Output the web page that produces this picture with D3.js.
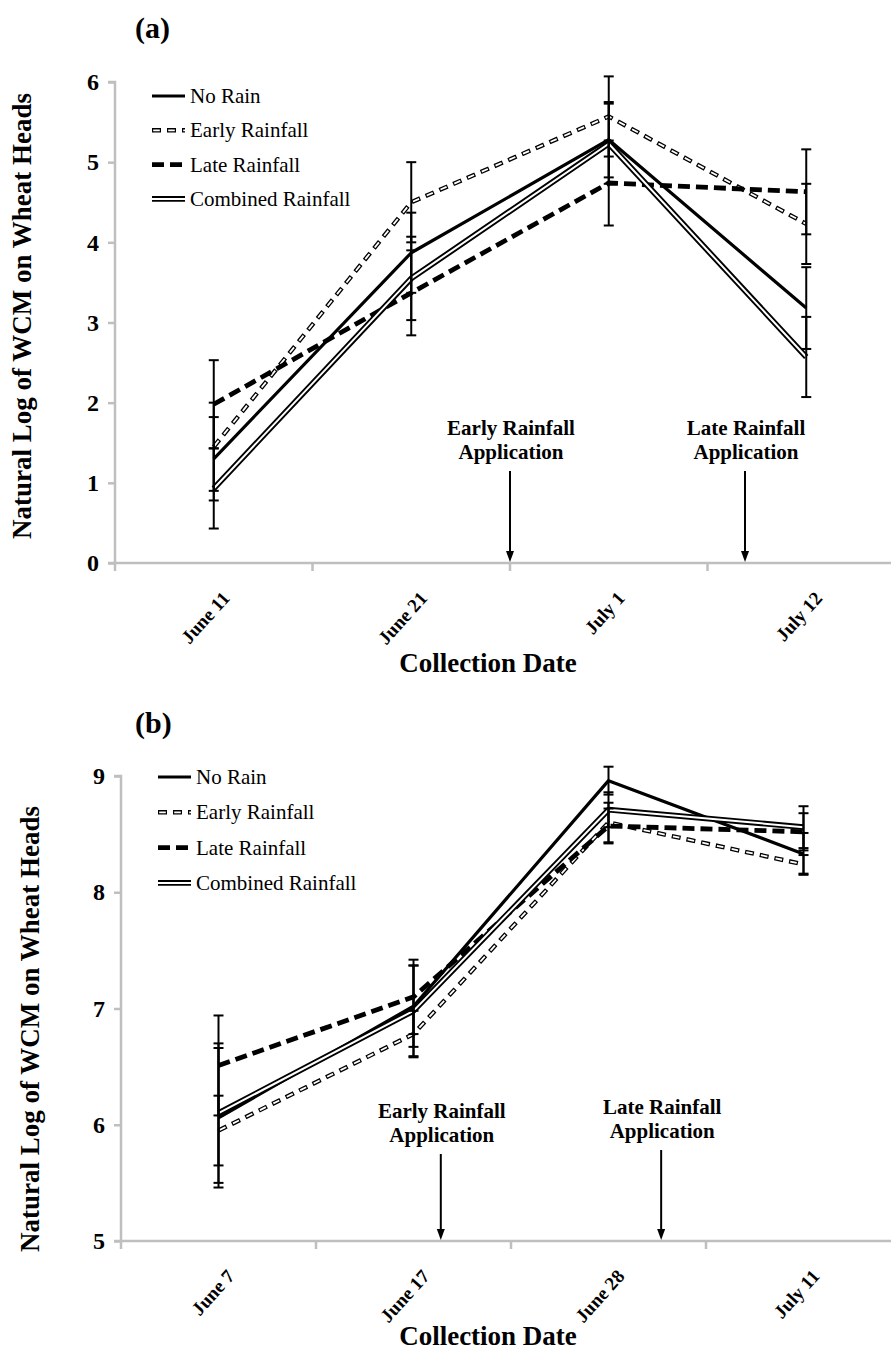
<!DOCTYPE html>
<html>
<head>
<meta charset="utf-8">
<script src="https://cdn.jsdelivr.net/npm/d3@7"></script>
<style>
  html, body { margin: 0; padding: 0; background: #fff; }
  svg { display: block; }
</style>
</head>
<body>
<div id="chart"></div>
<script>
// ---- Panel (a) data ----
const datesA = ["June 11", "June 21", "July 1", "July 12"];
const noRainA = [1.30, 3.87, 5.28, 3.18];
const earlyA = [1.45, 4.50, 5.57, 4.23];
const lateA = [1.98, 3.37, 4.74, 4.63];
const combinedA = [0.93, 3.55, 5.23, 2.57];
const noRainErrA = [0.52, 0.50, 0.47, 0.51];
const earlyErrA = [0.55, 0.50, 0.50, 0.50];
const lateErrA = [0.55, 0.53, 0.53, 0.53];
const combinedErrA = [0.50, 0.52, 0.50, 0.50];
const yTicksA = [0, 1, 2, 3, 4, 5, 6];
// application dates, in category units (0 = left edge of first category)
const applicationsA = [2.0, 3.19];

// ---- Panel (b) data ----
const datesB = ["June 7", "June 17", "June 28", "July 11"];
const noRainB = [6.06, 7.02, 8.96, 8.33];
const earlyB = [5.95, 6.78, 8.60, 8.24];
const lateB = [6.51, 7.10, 8.57, 8.52];
const combinedB = [6.10, 6.98, 8.71, 8.56];
const noRainErrB = [0.60, 0.35, 0.12, 0.18];
const earlyErrB = [0.30, 0.20, 0.17, 0.08];
const lateErrB = [0.43, 0.32, 0.15, 0.16];
const combinedErrB = [0.60, 0.39, 0.15, 0.18];
const yTicksB = [5, 6, 7, 8, 9];
const applicationsB = [1.64, 2.77];

const seriesNames = ["No Rain", "Early Rainfall", "Late Rainfall", "Combined Rainfall"];
const applicationLabels = [["Early Rainfall", "Application"], ["Late Rainfall", "Application"]];

const W = 891, H = 1353;
const GRAY = "#bfbfbf";
const SERIF = "'Liberation Serif', 'Times New Roman', Times, serif";

const svg = d3.select("#chart").append("svg")
  .attr("width", W).attr("height", H)
  .attr("viewBox", `0 0 ${W} ${H}`)
  .style("font-family", SERIF);
svg.append("rect").attr("width", W).attr("height", H).attr("fill", "#fff");

// Stroke a path with one of the four line styles
function strokeStyled(g, d, style) {
  if (style === "No Rain") {
    g.append("path").attr("d", d).attr("fill", "none")
      .attr("stroke", "#000").attr("stroke-width", 3.2).attr("stroke-linejoin", "round");
  } else if (style === "Early Rainfall") {
    // outlined dashes
    g.append("path").attr("d", d).attr("fill", "none")
      .attr("stroke", "#000").attr("stroke-width", 4.4)
      .attr("stroke-dasharray", "9,6");
    g.append("path").attr("d", d).attr("fill", "none")
      .attr("stroke", "#fff").attr("stroke-width", 1.8)
      .attr("stroke-dasharray", "6.6,8.4").attr("stroke-dashoffset", -1.2);
  } else if (style === "Late Rainfall") {
    g.append("path").attr("d", d).attr("fill", "none")
      .attr("stroke", "#000").attr("stroke-width", 4.8)
      .attr("stroke-dasharray", "12,6");
  } else {
    // double line
    g.append("path").attr("d", d).attr("fill", "none")
      .attr("stroke", "#000").attr("stroke-width", 5.8).attr("stroke-linejoin", "round");
    g.append("path").attr("d", d).attr("fill", "none")
      .attr("stroke", "#fff").attr("stroke-width", 2).attr("stroke-linejoin", "round");
  }
}

function drawPanel(cfg) {
  const g = svg.append("g");
  const x = d3.scaleBand().domain(cfg.dates).range([cfg.left, cfg.right]).padding(0);
  const xi = d3.scaleLinear().domain([0, cfg.dates.length]).range([cfg.left, cfg.right]);
  const y = d3.scaleLinear().domain(cfg.yDomain).range([cfg.bottom, cfg.top]);
  const cx = d => x(d) + x.bandwidth() / 2;

  // Y axis
  const yAxis = d3.axisLeft(y).tickValues(cfg.yTicks).tickSize(7).tickPadding(9)
    .tickFormat(d3.format("d"));
  const ya = g.append("g").attr("transform", `translate(${cfg.left},0)`).call(yAxis);
  ya.select(".domain").attr("stroke", GRAY).attr("stroke-width", 2.5)
    .attr("d", `M-7,${cfg.bottom}H0V${cfg.top}H-7`);
  ya.selectAll(".tick line").attr("stroke", GRAY).attr("stroke-width", 2.5);
  ya.selectAll(".tick text").attr("fill", "#000")
    .style("font-family", SERIF).style("font-size", "24px").style("font-weight", "bold");

  // X axis with ticks on category boundaries
  const xAxis = d3.axisBottom(x).tickSize(0).tickFormat("");
  const xa = g.append("g").attr("transform", `translate(0,${cfg.bottom})`).call(xAxis);
  xa.select(".domain").attr("stroke", GRAY).attr("stroke-width", 2.5)
    .attr("d", `M${cfg.left},0H${cfg.right}`);
  xa.selectAll(".tick").remove();
  const bounds = cfg.dates.map(d => x(d)).concat([cfg.right]);
  xa.selectAll("line.bound").data(bounds).join("line").attr("class", "bound")
    .attr("x1", d => d).attr("x2", d => d).attr("y1", 0).attr("y2", 8)
    .attr("stroke", GRAY).attr("stroke-width", 2.5);
  xa.selectAll("text.cat").data(cfg.dates).join("text").attr("class", "cat")
    .attr("transform", d => `translate(${cx(d) + 17},${36}) rotate(-48)`)
    .attr("text-anchor", "end").attr("fill", "#000")
    .style("font-family", SERIF).style("font-size", "19px").style("font-weight", "bold")
    .text(d => d);

  // Series lines
  const series = [
    { name: seriesNames[0], v: cfg.noRain, e: cfg.noRainErr },
    { name: seriesNames[1], v: cfg.early, e: cfg.earlyErr },
    { name: seriesNames[2], v: cfg.late, e: cfg.lateErr },
    { name: seriesNames[3], v: cfg.combined, e: cfg.combinedErr }
  ];
  const line = d3.line().x(p => p[0]).y(p => p[1]);
  series.forEach(s => {
    const pts = cfg.dates.map((d, i) => [cx(d), y(s.v[i])]);
    strokeStyled(g.append("g"), line(pts), s.name);
  });

  // Error bars
  series.forEach(s => {
    const eg = g.append("g").attr("stroke", "#000").attr("stroke-width", 2);
    cfg.dates.forEach((d, i) => {
      const px = cx(d), lo = y(s.v[i] - s.e[i]), hi = y(s.v[i] + s.e[i]);
      eg.append("line").attr("x1", px).attr("x2", px).attr("y1", lo).attr("y2", hi);
      eg.append("line").attr("x1", px - 5).attr("x2", px + 5).attr("y1", lo).attr("y2", lo);
      eg.append("line").attr("x1", px - 5).attr("x2", px + 5).attr("y1", hi).attr("y2", hi);
    });
  });

  // Legend
  series.forEach((s, i) => {
    const ly = cfg.legendY + i * cfg.legendStep;
    strokeStyled(g.append("g"), `M${cfg.legendX},${ly}H${cfg.legendX + 33}`, s.name);
    g.append("text").attr("x", cfg.legendX + 38).attr("y", ly + 7)
      .style("font-size", "21px").text(s.name);
  });

  // Application arrows
  cfg.applications.forEach((a, i) => {
    const ax = xi(a);
    const ty = cfg.annY[i];
    const t = g.append("text").attr("text-anchor", "middle")
      .style("font-size", "21px").style("font-weight", "bold");
    t.append("tspan").attr("x", ax + 1).attr("y", ty).text(applicationLabels[i][0]);
    t.append("tspan").attr("x", ax + 1).attr("y", ty + 24).text(applicationLabels[i][1]);
    const top = ty + 36, tip = cfg.bottom - 1;
    g.append("line").attr("x1", ax).attr("x2", ax).attr("y1", top).attr("y2", tip - 8)
      .attr("stroke", "#000").attr("stroke-width", 2);
    g.append("path").attr("d", `M${ax - 4},${tip - 11}L${ax + 4},${tip - 11}L${ax},${tip}Z`)
      .attr("fill", "#000");
  });

  // Titles
  g.append("text").attr("x", cfg.panelX).attr("y", cfg.panelY)
    .style("font-size", "30px").style("font-weight", "bold").text(cfg.panel);
  g.append("text").attr("text-anchor", "middle")
    .attr("transform", `translate(${cfg.yTitleX},${cfg.yTitleY}) rotate(-90)`)
    .style("font-size", "27px").style("font-weight", "bold")
    .text("Natural Log of WCM on Wheat Heads");
  g.append("text").attr("text-anchor", "middle").attr("x", 488).attr("y", cfg.xTitleY)
    .style("font-size", "27px").style("font-weight", "bold")
    .text("Collection Date");
}

drawPanel({
  panel: "(a)", panelX: 135, panelY: 38,
  dates: datesA, noRain: noRainA, early: earlyA, late: lateA, combined: combinedA,
  noRainErr: noRainErrA, earlyErr: earlyErrA, lateErr: lateErrA, combinedErr: combinedErrA,
  yDomain: [0, 6], yTicks: yTicksA,
  left: 115, right: 905, top: 82, bottom: 563,
  legendX: 152, legendY: 96, legendStep: 34.3,
  applications: applicationsA, annY: [435, 435],
  yTitleX: 31, yTitleY: 316, xTitleY: 672
});

drawPanel({
  panel: "(b)", panelX: 135, panelY: 733,
  dates: datesB, noRain: noRainB, early: earlyB, late: lateB, combined: combinedB,
  noRainErr: noRainErrB, earlyErr: earlyErrB, lateErr: lateErrB, combinedErr: combinedErrB,
  yDomain: [5, 9], yTicks: yTicksB,
  left: 121, right: 901, top: 776, bottom: 1241,
  legendX: 158, legendY: 777, legendStep: 35.3,
  applications: applicationsB, annY: [1118, 1114],
  yTitleX: 39, yTitleY: 1029, xTitleY: 1345
});
</script>
</body>
</html>
